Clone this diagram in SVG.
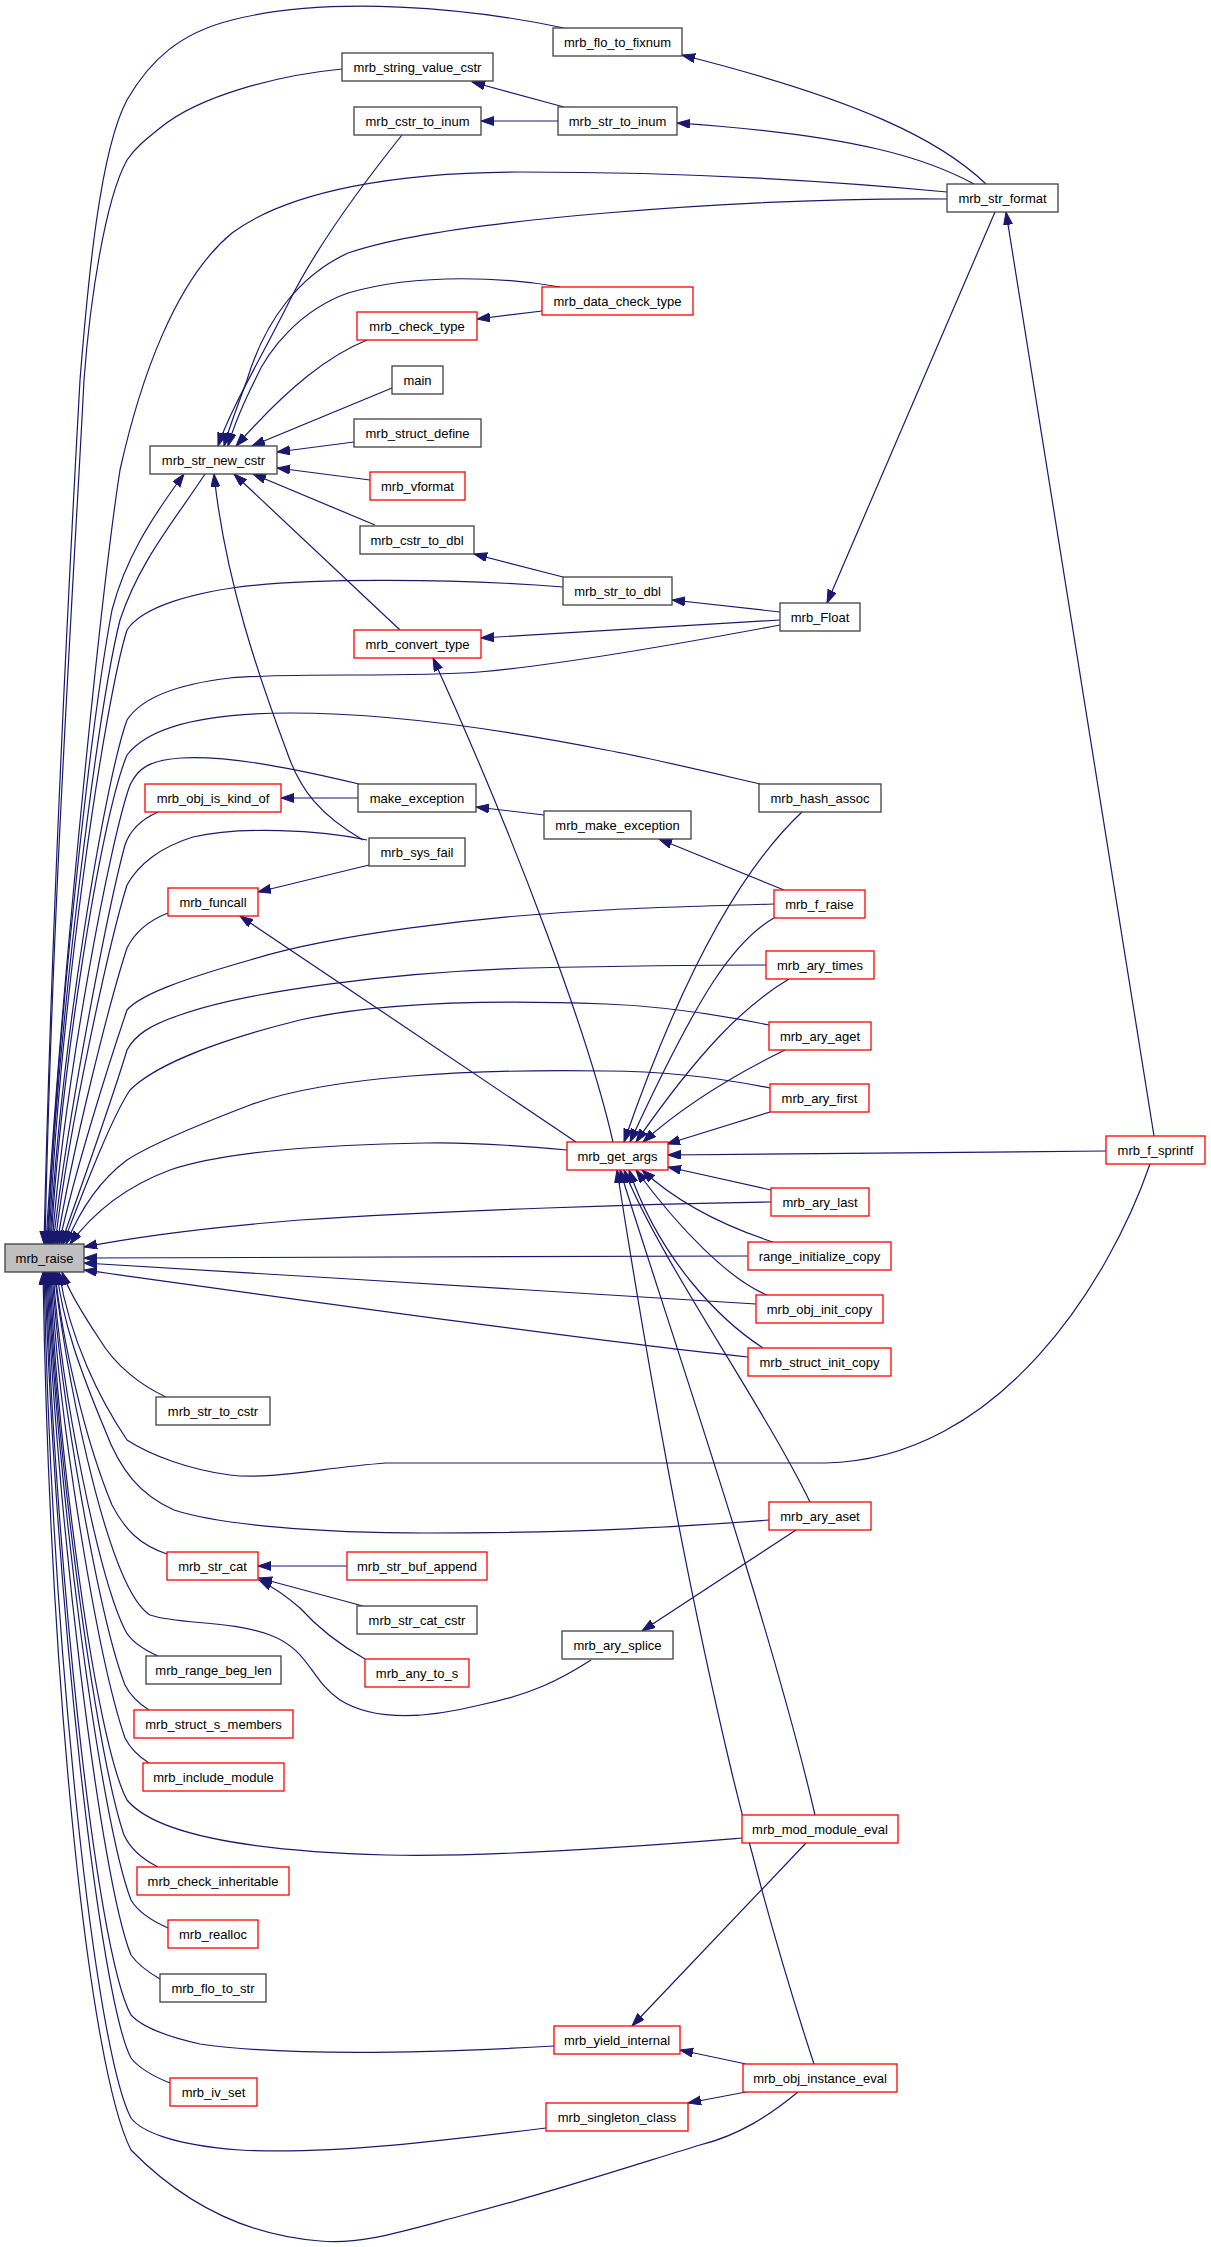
<svg xmlns="http://www.w3.org/2000/svg" width="1211" height="2247" viewBox="0 0 1211 2247">
<style>
.n rect{fill:#fff;stroke:#404040;stroke-width:1.3}
.n.r rect{stroke:#ff0000}
.n.root rect{fill:#bfbfbf;stroke:#404040}
.n text{font-family:"Liberation Sans",Arial,sans-serif;font-size:13px;text-anchor:middle;fill:#000}
#edges path{fill:none;stroke:#191970;stroke-width:1.2;marker-end:url(#a)}
</style>
<defs>
<marker id="a" markerWidth="14" markerHeight="10" refX="13" refY="4.5" orient="auto" markerUnits="userSpaceOnUse"><path d="M0,0 L13,4.5 L0,9 z" fill="#191970" stroke="#191970" stroke-width="1"/></marker>
</defs>
<rect width="1211" height="2247" fill="#fff"/>
<g id="edges">
<path d="M564,28 C470,8 330,-5 232,20 C180,33 150,60 127,100 C100,150 88,280 80,380 C70,560 52,900 44,1244"/>
<path d="M342,69 C280,75 200,95 160,128 C145,140 135,148 127,160 C105,200 90,300 84,380 C75,560 52,900 45,1244"/>
<path d="M947,192 C800,178 650,172 520,172 C400,172 290,190 232,233 C175,280 140,380 120,470 C100,600 60,1000 46,1244"/>
<path d="M947,199 C820,198 700,205 606,213 C500,222 400,235 348,253 C300,275 265,320 247,380 C238,405 230,425 224,446"/>
<path d="M986,184 C940,140 860,100 682,55"/>
<path d="M974,184 C930,160 860,135 677,123"/>
<path d="M564,107 L472,82"/>
<path d="M558,121 L481,121"/>
<path d="M402,135 C370,175 320,240 290,300 C260,360 230,410 218,446"/>
<path d="M560,287 C510,278 420,272 348,293 C300,310 268,350 255,380 C245,400 234,425 228,446"/>
<path d="M542,311 L477,319"/>
<path d="M367,340 C330,355 290,385 236,446"/>
<path d="M392,388 L252,446"/>
<path d="M354,442 L277,452"/>
<path d="M370,480 L277,468"/>
<path d="M375,525 L253,474"/>
<path d="M563,577 L474,554"/>
<path d="M400,630 L234,474"/>
<path d="M363,840 C320,815 300,790 287,752 C260,680 225,580 214,474"/>
<path d="M205,474 C175,520 140,560 120,620 C100,700 60,1000 47,1244"/>
<path d="M48,1244 C58,1000 95,700 112,610 C125,560 150,520 184,474"/>
<path d="M563,587 C450,578 300,578 232,588 C180,596 140,610 127,630 C105,700 60,1000 49,1244"/>
<path d="M780,612 L672,600"/>
<path d="M780,620 L481,638"/>
<path d="M780,625 C700,640 560,665 479,672 C400,678 300,672 230,678 C170,685 140,700 127,720 C105,780 60,1050 50,1244"/>
<path d="M995,212 L827,603"/>
<path d="M1154,1136 L1006,212"/>
<path d="M613,1142 C590,1040 520,850 433,658"/>
<path d="M760,784 C700,770 650,758 606,750 C520,733 400,713 290,713 C210,713 150,725 127,755 C100,820 60,1080 51,1244"/>
<path d="M359,784 C300,770 230,755 181,758 C150,760 138,768 130,785 C110,840 65,1080 52,1244"/>
<path d="M358,798 L281,798"/>
<path d="M544,815 L476,807"/>
<path d="M784,890 L659,839"/>
<path d="M158,812 C140,820 130,830 125,845 C110,900 70,1100 53,1244"/>
<path d="M367,840 C320,830 240,826 193,837 C160,847 138,865 127,885 C110,940 70,1120 55,1244"/>
<path d="M369,865 L258,892"/>
<path d="M168,913 C150,920 135,932 127,948 C110,1000 72,1150 57,1244"/>
<path d="M576,1142 L240,916"/>
<path d="M774,904 C700,906 640,908 605,910 C480,916 330,935 250,960 C180,980 140,995 127,1010 C110,1060 75,1170 59,1244"/>
<path d="M766,965 C700,965 620,966 530,968 C400,972 250,990 180,1015 C150,1025 135,1035 127,1050 C112,1100 80,1190 61,1244"/>
<path d="M769,1025 C720,1015 660,1006 606,1004 C500,1000 380,1002 300,1020 C200,1045 150,1070 130,1090 C110,1120 80,1200 63,1244"/>
<path d="M770,1088 C720,1078 660,1071 606,1071 C480,1069 330,1075 250,1105 C190,1128 150,1145 127,1160 C100,1180 80,1210 66,1244"/>
<path d="M567,1150 C500,1144 460,1142 425,1143 C330,1145 230,1150 170,1170 C130,1185 95,1210 70,1244"/>
<path d="M771,1202 C650,1204 450,1210 300,1220 C200,1228 130,1238 84,1247"/>
<path d="M748,1256 L84,1258"/>
<path d="M756,1304 C600,1294 300,1276 84,1263"/>
<path d="M748,1357 C600,1342 300,1300 84,1270"/>
<path d="M1150,1164 C1110,1280 1000,1460 825,1463 L605,1463 C500,1463 420,1463 386,1463 C320,1468 270,1480 230,1475 C190,1470 150,1455 127,1440 C100,1400 70,1340 59,1272"/>
<path d="M1106,1151 L668,1155"/>
<path d="M802,812 C740,870 680,980 624,1142"/>
<path d="M774,918 C735,940 700,990 630,1142"/>
<path d="M789,979 C745,1005 700,1050 636,1142"/>
<path d="M785,1050 C740,1072 690,1100 643,1142"/>
<path d="M770,1112 L667,1144"/>
<path d="M771,1190 L668,1167"/>
<path d="M773,1242 C730,1228 680,1205 642,1170"/>
<path d="M767,1295 C730,1280 680,1230 636,1170"/>
<path d="M763,1348 C720,1320 660,1260 629,1170"/>
<path d="M810,1502 C760,1400 660,1260 624,1170"/>
<path d="M815,1815 C770,1620 660,1300 620,1170"/>
<path d="M814,2064 C770,1930 700,1700 617,1170"/>
<path d="M806,1843 L632,2026"/>
<path d="M746,2064 L680,2050"/>
<path d="M746,2092 L688,2103"/>
<path d="M796,1530 L642,1631"/>
<path d="M591,1660 C560,1680 530,1695 480,1705 C440,1715 380,1725 340,1700 C310,1680 310,1650 270,1635 C230,1620 180,1625 150,1615 C110,1590 70,1400 54,1272"/>
<path d="M769,1520 C700,1525 600,1533 425,1533 C320,1533 220,1525 174,1510 C140,1495 120,1470 105,1430 C80,1370 62,1320 57,1272"/>
<path d="M167,1554 C140,1545 125,1530 112,1505 C85,1440 62,1340 55,1272"/>
<path d="M347,1566 L258,1566"/>
<path d="M363,1606 L259,1578"/>
<path d="M365,1659 C340,1645 320,1630 300,1608 C285,1595 275,1588 259,1580"/>
<path d="M158,1656 C140,1648 130,1640 125,1630 C100,1580 62,1400 53,1272"/>
<path d="M149,1710 C138,1703 130,1695 125,1685 C100,1620 60,1400 52,1272"/>
<path d="M149,1763 C138,1756 130,1748 125,1738 C98,1660 58,1420 51,1272"/>
<path d="M742,1838 C680,1843 500,1858 386,1855 C280,1852 160,1840 127,1800 C95,1740 58,1450 50,1272"/>
<path d="M158,1867 C140,1858 130,1848 124,1835 C95,1750 56,1450 49,1272"/>
<path d="M168,1928 C150,1920 138,1912 131,1900 C100,1820 56,1480 48,1272"/>
<path d="M160,1979 C148,1972 138,1965 131,1955 C100,1880 55,1500 47,1272"/>
<path d="M554,2046 C450,2052 300,2058 200,2044 C160,2035 140,2025 131,2015 C95,1950 55,1550 46,1272"/>
<path d="M170,2083 C150,2075 138,2067 131,2058 C100,2000 55,1600 45,1272"/>
<path d="M546,2128 C450,2140 330,2155 240,2150 C170,2145 140,2130 131,2118 C95,2050 52,1650 44,1272"/>
<path d="M798,2092 C770,2115 740,2135 700,2145 C650,2160 560,2190 464,2215 C400,2232 360,2245 320,2241 C240,2235 180,2200 131,2150 C90,2070 50,1700 43,1272"/>
<path d="M166,1397 C140,1385 115,1365 100,1340 C80,1310 68,1290 62,1272"/>
</g>
<g id="n_mrb_flo_to_fixnum" class="n"><rect x="553" y="28" width="129" height="28"/><text x="617.5" y="46.5">mrb_flo_to_fixnum</text></g>
<g id="n_mrb_string_value_cstr" class="n"><rect x="342" y="53" width="151" height="28"/><text x="417.5" y="71.5">mrb_string_value_cstr</text></g>
<g id="n_mrb_cstr_to_inum" class="n"><rect x="354" y="107" width="127" height="28"/><text x="417.5" y="125.5">mrb_cstr_to_inum</text></g>
<g id="n_mrb_str_to_inum" class="n"><rect x="558" y="107" width="119" height="28"/><text x="617.5" y="125.5">mrb_str_to_inum</text></g>
<g id="n_mrb_str_format" class="n"><rect x="947" y="184" width="111" height="28"/><text x="1002.5" y="202.5">mrb_str_format</text></g>
<g id="n_mrb_data_check_type" class="n r"><rect x="542" y="287" width="151" height="28"/><text x="617.5" y="305.5">mrb_data_check_type</text></g>
<g id="n_mrb_check_type" class="n r"><rect x="357" y="312" width="120" height="28"/><text x="417" y="330.5">mrb_check_type</text></g>
<g id="n_main" class="n"><rect x="392" y="366" width="51" height="28"/><text x="417.5" y="384.5">main</text></g>
<g id="n_mrb_struct_define" class="n"><rect x="354" y="419" width="127" height="28"/><text x="417.5" y="437.5">mrb_struct_define</text></g>
<g id="n_mrb_str_new_cstr" class="n"><rect x="150" y="446" width="127" height="28"/><text x="213.5" y="464.5">mrb_str_new_cstr</text></g>
<g id="n_mrb_vformat" class="n r"><rect x="370" y="472" width="95" height="28"/><text x="417.5" y="490.5">mrb_vformat</text></g>
<g id="n_mrb_cstr_to_dbl" class="n"><rect x="360" y="526" width="114" height="28"/><text x="417" y="544.5">mrb_cstr_to_dbl</text></g>
<g id="n_mrb_str_to_dbl" class="n"><rect x="563" y="577" width="109" height="28"/><text x="617.5" y="595.5">mrb_str_to_dbl</text></g>
<g id="n_mrb_Float" class="n"><rect x="780" y="603" width="80" height="28"/><text x="820" y="621.5">mrb_Float</text></g>
<g id="n_mrb_convert_type" class="n r"><rect x="354" y="630" width="127" height="28"/><text x="417.5" y="648.5">mrb_convert_type</text></g>
<g id="n_mrb_obj_is_kind_of" class="n r"><rect x="145" y="784" width="136" height="28"/><text x="213" y="802.5">mrb_obj_is_kind_of</text></g>
<g id="n_make_exception" class="n"><rect x="358" y="784" width="118" height="28"/><text x="417" y="802.5">make_exception</text></g>
<g id="n_mrb_hash_assoc" class="n"><rect x="759" y="784" width="122" height="28"/><text x="820" y="802.5">mrb_hash_assoc</text></g>
<g id="n_mrb_make_exception" class="n"><rect x="544" y="811" width="147" height="28"/><text x="617.5" y="829.5">mrb_make_exception</text></g>
<g id="n_mrb_sys_fail" class="n"><rect x="369" y="838" width="96" height="28"/><text x="417" y="856.5">mrb_sys_fail</text></g>
<g id="n_mrb_funcall" class="n r"><rect x="168" y="888" width="90" height="28"/><text x="213" y="906.5">mrb_funcall</text></g>
<g id="n_mrb_f_raise" class="n r"><rect x="774" y="890" width="91" height="28"/><text x="819.5" y="908.5">mrb_f_raise</text></g>
<g id="n_mrb_ary_times" class="n r"><rect x="766" y="951" width="108" height="28"/><text x="820" y="969.5">mrb_ary_times</text></g>
<g id="n_mrb_ary_aget" class="n r"><rect x="769" y="1022" width="102" height="28"/><text x="820" y="1040.5">mrb_ary_aget</text></g>
<g id="n_mrb_ary_first" class="n r"><rect x="770" y="1084" width="99" height="28"/><text x="819.5" y="1102.5">mrb_ary_first</text></g>
<g id="n_mrb_get_args" class="n r"><rect x="567" y="1142" width="101" height="28"/><text x="617.5" y="1160.5">mrb_get_args</text></g>
<g id="n_mrb_f_sprintf" class="n r"><rect x="1106" y="1136" width="99" height="28"/><text x="1155.5" y="1154.5">mrb_f_sprintf</text></g>
<g id="n_mrb_ary_last" class="n r"><rect x="771" y="1188" width="98" height="28"/><text x="820" y="1206.5">mrb_ary_last</text></g>
<g id="n_mrb_raise" class="n root"><rect x="5" y="1244" width="79" height="28"/><text x="44.5" y="1262.5">mrb_raise</text></g>
<g id="n_range_initialize_copy" class="n r"><rect x="748" y="1242" width="143" height="28"/><text x="819.5" y="1260.5">range_initialize_copy</text></g>
<g id="n_mrb_obj_init_copy" class="n r"><rect x="756" y="1295" width="127" height="28"/><text x="819.5" y="1313.5">mrb_obj_init_copy</text></g>
<g id="n_mrb_struct_init_copy" class="n r"><rect x="748" y="1348" width="143" height="28"/><text x="819.5" y="1366.5">mrb_struct_init_copy</text></g>
<g id="n_mrb_str_to_cstr" class="n"><rect x="156" y="1397" width="114" height="28"/><text x="213" y="1415.5">mrb_str_to_cstr</text></g>
<g id="n_mrb_ary_aset" class="n r"><rect x="769" y="1502" width="102" height="28"/><text x="820" y="1520.5">mrb_ary_aset</text></g>
<g id="n_mrb_str_cat" class="n r"><rect x="167" y="1552" width="91" height="28"/><text x="212.5" y="1570.5">mrb_str_cat</text></g>
<g id="n_mrb_str_buf_append" class="n r"><rect x="347" y="1552" width="140" height="28"/><text x="417" y="1570.5">mrb_str_buf_append</text></g>
<g id="n_mrb_str_cat_cstr" class="n"><rect x="357" y="1606" width="120" height="28"/><text x="417" y="1624.5">mrb_str_cat_cstr</text></g>
<g id="n_mrb_ary_splice" class="n"><rect x="562" y="1631" width="111" height="28"/><text x="617.5" y="1649.5">mrb_ary_splice</text></g>
<g id="n_mrb_any_to_s" class="n r"><rect x="365" y="1659" width="104" height="28"/><text x="417" y="1677.5">mrb_any_to_s</text></g>
<g id="n_mrb_range_beg_len" class="n"><rect x="146" y="1656" width="135" height="28"/><text x="213.5" y="1674.5">mrb_range_beg_len</text></g>
<g id="n_mrb_struct_s_members" class="n r"><rect x="134" y="1710" width="159" height="28"/><text x="213.5" y="1728.5">mrb_struct_s_members</text></g>
<g id="n_mrb_include_module" class="n r"><rect x="143" y="1763" width="141" height="28"/><text x="213.5" y="1781.5">mrb_include_module</text></g>
<g id="n_mrb_mod_module_eval" class="n r"><rect x="742" y="1815" width="156" height="28"/><text x="820" y="1833.5">mrb_mod_module_eval</text></g>
<g id="n_mrb_check_inheritable" class="n r"><rect x="137" y="1867" width="152" height="28"/><text x="213" y="1885.5">mrb_check_inheritable</text></g>
<g id="n_mrb_realloc" class="n r"><rect x="168" y="1920" width="90" height="28"/><text x="213" y="1938.5">mrb_realloc</text></g>
<g id="n_mrb_flo_to_str" class="n"><rect x="160" y="1974" width="106" height="28"/><text x="213" y="1992.5">mrb_flo_to_str</text></g>
<g id="n_mrb_yield_internal" class="n r"><rect x="554" y="2026" width="126" height="28"/><text x="617" y="2044.5">mrb_yield_internal</text></g>
<g id="n_mrb_obj_instance_eval" class="n r"><rect x="743" y="2064" width="154" height="28"/><text x="820" y="2082.5">mrb_obj_instance_eval</text></g>
<g id="n_mrb_iv_set" class="n r"><rect x="170" y="2078" width="87" height="28"/><text x="213.5" y="2096.5">mrb_iv_set</text></g>
<g id="n_mrb_singleton_class" class="n r"><rect x="546" y="2103" width="142" height="28"/><text x="617" y="2121.5">mrb_singleton_class</text></g>
</svg>
